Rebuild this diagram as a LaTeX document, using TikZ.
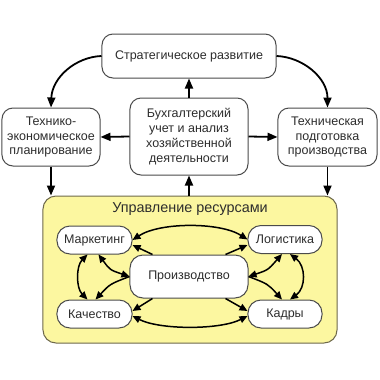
\documentclass[tikz,border=0pt]{standalone}
\usepackage{fontspec}
\setmainfont{Liberation Sans}
\usetikzlibrary{arrows.meta,calc}
\definecolor{yel}{RGB}{252,247,160}
\definecolor{ybord}{RGB}{110,105,75}
\definecolor{bord}{RGB}{75,75,75}
\definecolor{txt}{RGB}{45,45,45}
\newcommand{\bfnt}{\fontsize{12.5bp}{14.8bp}\selectfont}
\newcommand{\tfnt}{\fontsize{14.4bp}{17bp}\selectfont}
\begin{document}
\begin{tikzpicture}[x=1bp,y=-1bp,
  box/.style={draw=bord, fill=white, rounded corners=11bp, line width=1bp,
    align=center, inner sep=0pt, font=\bfnt, text=txt},
  pill/.style={box, rounded corners=13bp},
  resbox/.style={draw=ybord, fill=yel, rounded corners=13bp, line width=1bp, inner sep=0pt},
  arr/.style={line width=1.8bp, -{Triangle[length=10bp,width=8bp]}},
  iarr/.style={line width=1.5bp, -{Triangle[length=8bp,width=7bp]}},
  dbl/.style={line width=1.5bp, {Triangle[length=8bp,width=7bp]}-{Triangle[length=8bp,width=7bp]}}
]
\useasboundingbox (0,0) rectangle (380,380);
\fill[white] (0,0) rectangle (380,380);

% top level
\node[box, minimum width=174bp, minimum height=44bp] (strat) at (189,56) {Стратегическое развитие};
\node[box, minimum width=98bp, minimum height=58bp] (plan) at (51,137) {Технико-\\экономическое\\планирование};
\node[box, minimum width=118bp, minimum height=77bp] (buh) at (189,136.5) {Бухгалтерский\\учет и анализ\\хозяйственной\\деятельности};
\node[box, minimum width=99bp, minimum height=58bp] (tech) at (327.5,137) {Техническая\\подготовка\\производства};

% resources
\node[resbox, minimum width=294bp, minimum height=147bp] (res) at (190,269.5) {};
\node[font=\tfnt, text=txt, inner sep=0pt] (restitle) at (190,209) {Управление ресурсами};

\node[pill, minimum width=75bp, minimum height=28bp] (mark) at (94.5,240) {Маркетинг};
\node[pill, minimum width=74bp, minimum height=28bp] (log) at (285,239.5) {Логистика};
\node[box, rounded corners=13bp, minimum width=118bp, minimum height=43bp] (prod) at (189,276.5) {Производство};
\node[pill, minimum width=75bp, minimum height=28bp] (kach) at (94.5,314) {Качество};
\node[pill, minimum width=74bp, minimum height=28bp] (kadr) at (285,314) {Кадры};

% top arrows
\draw[arr] (strat.west) .. controls (75,57) and (52,78) .. (plan.north);
\draw[arr] (strat.east) .. controls (303,57) and (327.5,78) .. (tech.north);
\draw[arr] (buh.north) -- (strat.south);
\draw[arr] (buh.west) -- (plan.east);
\draw[arr] (buh.east) -- (tech.west);
\draw[arr] (plan.south) -- (plan.south |- res.north);
\draw[arr] (tech.south) -- (tech.south |- res.north);
\draw[arr] (buh.south |- res.north) -- (buh.south);

% inner arrows
\draw[dbl] (mark.east) .. controls (160,222) and (220,222) .. (log.west);
\draw[dbl] ($(kach.east)+(0,2)$) .. controls (160,330) and (220,330) .. ($(kadr.west)+(0,2)$);
\draw[iarr] ($(prod.north west)+(23,0)$) -- ($(mark.east)+(0,5)$);
\draw[iarr] ($(prod.north east)+(-23,0)$) -- ($(log.west)+(0,5.5)$);
\draw[iarr] ($(prod.south west)+(23,0)$) -- ($(kach.east)+(0,-3)$);
\draw[iarr] ($(prod.south east)+(-23,0)$) -- ($(kadr.west)+(0,-3)$);

\draw[dbl] ($(mark.south)+(-7,0)$) .. controls (76,266) and (76,288) .. ($(kach.north)+(-7,0)$);
\draw[dbl] ($(mark.south)+(4,0)$) .. controls (110,270) .. (prod.west);
\draw[iarr] (prod.west) .. controls (110,284) .. ($(kach.north)+(1,0)$);

\draw[dbl] ($(log.south)+(5,0)$) .. controls (306,266) and (306,288) .. ($(kadr.north)+(5,0)$);
\draw[dbl] ($(log.south)+(-3,0)$) .. controls (268,270) .. (prod.east);
\draw[iarr] (prod.east) .. controls (268,284) .. ($(kadr.north)+(-3,0)$);
\end{tikzpicture}
\end{document}
